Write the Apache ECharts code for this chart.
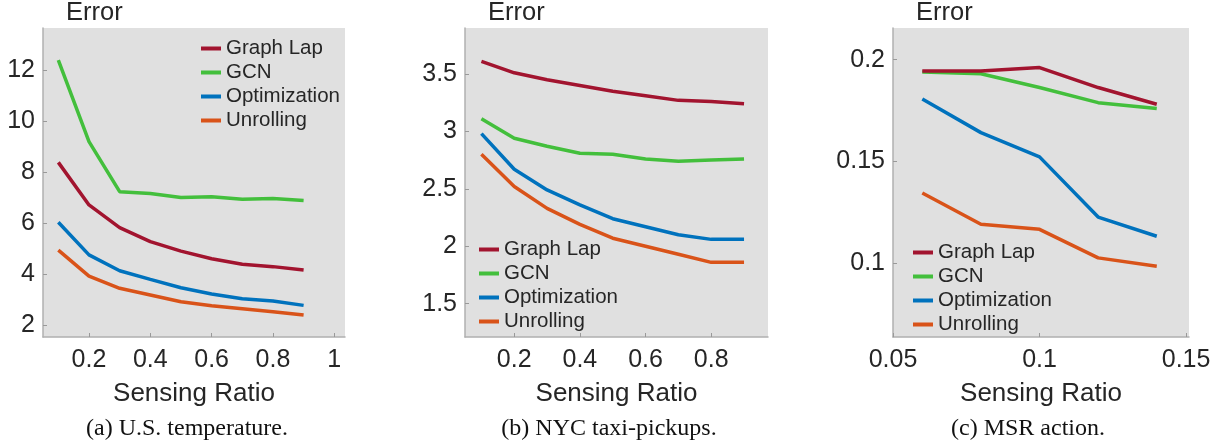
<!DOCTYPE html>
<html>
<head>
<meta charset="utf-8">
<script src="https://cdn.jsdelivr.net/npm/echarts@6/dist/echarts.min.js"></script>
<style>
  html, body { margin: 0; padding: 0; background: #fff; }
  #chart { width: 1222px; height: 446px; }
</style>
</head>
<body>
<div id="chart"></div>
<script>
// sensing ratios
const ratiosA = [0.1, 0.2, 0.3, 0.4, 0.5, 0.6, 0.7, 0.8, 0.9];
const ratiosC = [0.06, 0.08, 0.1, 0.12, 0.14];

const methods = ['Graph Lap', 'GCN', 'Optimization', 'Unrolling'];
const colors = ['#A2142F', '#43BF3C', '#0072BD', '#D95319'];

// (a) U.S. temperature
const usLap = [8.38, 6.71, 5.82, 5.27, 4.90, 4.60, 4.38, 4.29, 4.16];
const usGcn = [12.39, 9.19, 7.23, 7.16, 7.00, 7.03, 6.93, 6.96, 6.88];
const usOpt = [6.03, 4.75, 4.13, 3.79, 3.46, 3.22, 3.03, 2.94, 2.77];
const usUnr = [4.94, 3.92, 3.44, 3.18, 2.91, 2.76, 2.64, 2.52, 2.39];

// (b) NYC taxi-pickups
const nycLap = [3.61, 3.51, 3.45, 3.40, 3.35, 3.31, 3.27, 3.26, 3.24];
const nycGcn = [3.11, 2.94, 2.87, 2.81, 2.80, 2.76, 2.74, 2.75, 2.76];
const nycOpt = [2.98, 2.67, 2.49, 2.36, 2.24, 2.17, 2.10, 2.06, 2.06];
const nycUnr = [2.80, 2.52, 2.33, 2.19, 2.07, 2.00, 1.93, 1.86, 1.86];

// (c) MSR action
const msrLap = [0.1944, 0.1944, 0.1961, 0.1863, 0.1781];
const msrGcn = [0.1939, 0.1931, 0.1863, 0.1789, 0.1760];
const msrOpt = [0.1807, 0.1642, 0.1523, 0.1228, 0.1134];
const msrUnr = [0.1346, 0.1193, 0.1168, 0.1028, 0.0987];

// tick labels
const xTicksA = [0.2, 0.4, 0.6, 0.8, 1];
const yTicksA = [2, 4, 6, 8, 10, 12];
const xTicksB = [0.2, 0.4, 0.6, 0.8];
const yTicksB = [1.5, 2, 2.5, 3, 3.5];
const xTicksC = [0.05, 0.1, 0.15];
const yTicksC = [0.1, 0.15, 0.2];

const captions = ['(a) U.S. temperature.', '(b) NYC taxi-pickups.', '(c) MSR action.'];

const panels = [
  { grid: { left: 43, top: 28, width: 302, height: 309 },
    xr: [0.05, 1.035], yr: [1.53, 13.65], xt: xTicksA, yt: yTicksA,
    xs: ratiosA, data: [usLap, usGcn, usOpt, usUnr],
    legend: { left: 201, top: 38 }, capX: 187 },
  { grid: { left: 465, top: 28, width: 303, height: 309 },
    xr: [0.05, 0.973], yr: [1.21, 3.90], xt: xTicksB, yt: yTicksB,
    xs: ratiosA, data: [nycLap, nycGcn, nycOpt, nycUnr],
    legend: { left: 479, top: 239 }, capX: 609 },
  { grid: { left: 893, top: 28, width: 296, height: 309 },
    xr: [0.05, 0.151], yr: [0.064, 0.2155], xt: xTicksC, yt: yTicksC,
    xs: ratiosC, data: [msrLap, msrGcn, msrOpt, msrUnr],
    legend: { left: 913, top: 242 }, capX: 1028 }
];

const font = 'Liberation Sans, Arial, Helvetica, sans-serif';
const textColor = '#262626';
const axisColor = '#b0b0b0';

const option = {
  animation: false,
  grid: [], xAxis: [], yAxis: [], series: [], legend: [], graphic: []
};

panels.forEach((p, i) => {
  option.grid.push(Object.assign({
    show: true, backgroundColor: '#e0e0e0', borderWidth: 0
  }, p.grid));

  option.xAxis.push({
    type: 'value', gridIndex: i, min: p.xr[0], max: p.xr[1],
    name: 'Sensing Ratio', nameLocation: 'middle', nameGap: 44,
    nameTextStyle: { fontFamily: font, fontSize: 26, color: textColor },
    splitLine: { show: false },
    axisLine: { show: true, lineStyle: { color: axisColor, width: 1.5 } },
    axisTick: { show: true, inside: true, length: 4, customValues: p.xt, lineStyle: { color: '#999' } },
    axisLabel: { customValues: p.xt, margin: 11, fontFamily: font, fontSize: 25, color: textColor }
  });

  option.yAxis.push({
    type: 'value', gridIndex: i, min: p.yr[0], max: p.yr[1],
    splitLine: { show: false },
    axisLine: { show: true, lineStyle: { color: axisColor, width: 1.5 } },
    axisTick: { show: true, inside: true, length: 4, customValues: p.yt, lineStyle: { color: '#999' } },
    axisLabel: { customValues: p.yt, margin: 8, fontFamily: font, fontSize: 25, color: textColor }
  });

  methods.forEach((m, k) => {
    option.series.push({
      name: m, type: 'line', xAxisIndex: i, yAxisIndex: i,
      data: p.xs.map((x, j) => [x, p.data[k][j]]),
      showSymbol: false, symbol: 'none',
      lineStyle: { color: colors[k], width: 3.5 },
      itemStyle: { color: colors[k] },
      z: 10 - k
    });
  });

  option.legend.push({
    orient: 'vertical', left: p.legend.left, top: p.legend.top,
    data: methods, icon: 'rect', itemWidth: 20, itemHeight: 4, itemGap: 3,
    padding: 0, selectedMode: false,
    textStyle: { fontFamily: font, fontSize: 20.5, lineHeight: 20, color: textColor }
  });

  option.graphic.push({
    type: 'text', left: p.grid.left + 23, top: 0,
    style: { text: 'Error', font: '25.5px ' + font, fill: textColor }
  });
  option.graphic.push({
    type: 'text', x: p.capX, y: 429,
    style: { text: captions[i], font: '24px Liberation Serif, Times New Roman, serif',
             fill: '#111', textAlign: 'center', textVerticalAlign: 'middle' }
  });
});

const chart = echarts.init(document.getElementById('chart'));
chart.setOption(option);
window.addEventListener('resize', () => chart.resize());
</script>
</body>
</html>
